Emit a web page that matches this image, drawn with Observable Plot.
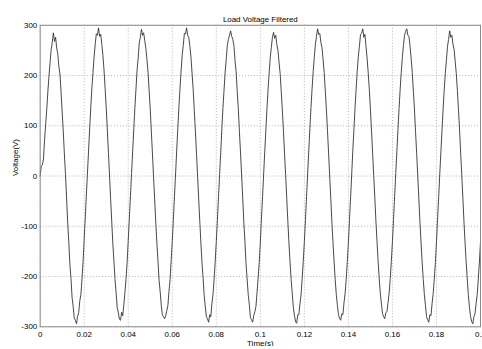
<!DOCTYPE html>
<html><head><meta charset="utf-8">
<script src="https://cdn.jsdelivr.net/npm/d3@7"></script>
<script src="https://cdn.jsdelivr.net/npm/@observablehq/plot@0.6"></script>
<style>html,body{margin:0;padding:0;overflow:hidden;background:#fff;}</style>
</head><body><div id="chart"></div>
<script>
const chartTitle = "Load Voltage Filtered";
const xLabel = "Time(s)";
const yLabel = "Voltage(V)";
const sampleStep = 0.0005; // seconds between samples
const voltage = [
  0, 20, 22, 34, 72, 104, 133, 168, 199, 226, 252, 266, 285, 268, 276, 255, 243, 218, 203, 166, 127, 88, 44, 3, -44, -93, -131, -176, -204, -242, -260, -283, -287, -294, -279, -272, -248, -236, -204, -170,
  -125, -82, -36, 8, 52, 96, 138, 176, 206, 238, 262, 283, 280, 295, 278, 282, 262, 240, 211, 174, 136, 92, 47, 2, -45, -90, -134, -170, -206, -233, -262, -272, -285, -287, -271, -278, -256, -232, -204, -172,
  -128, -84, -40, 5, 48, 92, 134, 172, 210, 234, 265, 276, 292, 280, 285, 270, 254, 232, 206, 170, 133, 88, 44, -2, -46, -92, -132, -168, -207, -230, -257, -276, -280, -284, -278, -268, -258, -230, -206, -168,
  -130, -86, -40, 4, 50, 94, 136, 174, 208, 240, 260, 284, 283, 295, 280, 276, 258, 236, 204, 172, 130, 90, 45, 0, -46, -90, -133, -172, -204, -238, -260, -280, -284, -291, -276, -280, -254, -236, -205, -170,
  -130, -88, -42, 3, 46, 92, 135, 170, 206, 232, 260, 272, 280, 289, 278, 272, 260, 230, 208, 168, 134, 88, 46, 2, -44, -92, -130, -174, -205, -236, -256, -282, -286, -291, -278, -270, -260, -232, -203, -172,
  -132, -85, -42, 4, 48, 90, 133, 172, 205, 236, 256, 276, 286, 274, 280, 262, 250, 226, 204, 168, 131, 90, 44, 1, -45, -91, -134, -172, -206, -234, -262, -278, -290, -293, -276, -276, -254, -236, -204, -170,
  -130, -86, -40, 6, 50, 94, 136, 174, 208, 236, 262, 278, 293, 282, 284, 266, 256, 232, 206, 170, 132, 90, 46, 0, -45, -92, -132, -171, -206, -236, -258, -276, -283, -287, -274, -276, -252, -234, -205, -170,
  -132, -86, -42, 4, 50, 92, 135, 172, 208, 238, 258, 282, 284, 293, 276, 282, 258, 234, 205, 172, 132, 90, 45, 1, -44, -90, -131, -170, -205, -234, -255, -274, -280, -284, -272, -270, -252, -233, -204, -170,
  -130, -86, -40, 5, 48, 92, 134, 172, 206, 236, 260, 280, 288, 293, 280, 278, 258, 234, 206, 170, 133, 88, 45, 0, -46, -92, -133, -172, -206, -236, -258, -280, -286, -291, -276, -278, -254, -234, -205, -172,
  -131, -86, -42, 4, 48, 90, 132, 170, 204, 230, 258, 272, 289, 276, 280, 262, 252, 228, 204, 170, 132, 90, 45, 1, -45, -92, -134, -172, -207, -238, -262, -280, -290, -294, -280, -274, -254, -236, -205, -171,
  -130
];
const xTicks = [0, 0.02, 0.04, 0.06, 0.08, 0.1, 0.12, 0.14, 0.16, 0.18, 0.2];
const xTickLabels = ["0", "0.02", "0.04", "0.06", "0.08", "0.1", "0.12", "0.14", "0.16", "0.18", "0.2"];
const yTicks = [-300, -200, -100, 0, 100, 200, 300];
const yTickLabels = ["-300", "-200", "-100", "0", "100", "200", "300"];

const data = voltage.map((v, i) => ({t: i * sampleStep, v}));
const gridStyle = {stroke: "#b4b4b4", strokeOpacity: 1, strokeDasharray: "1,2", strokeWidth: 1};

const chart = Plot.plot({
  width: 486,
  height: 349,
  marginLeft: 40,
  marginRight: 2,
  marginTop: 25,
  marginBottom: 20,
  style: {fontFamily: "'Liberation Sans', Arial, sans-serif", fontSize: "8px", background: "#fff", color: "#000", overflow: "visible"},
  x: {domain: [0, 0.2]},
  y: {domain: [-300, 300]},
  marks: [
    Plot.gridX(xTicks, gridStyle),
    Plot.gridY(yTicks, gridStyle),
    Plot.line(data, {x: "t", y: "v", stroke: "#333", strokeWidth: 0.9}),
    Plot.frame({stroke: "#8a8a8a"}),
    Plot.axisX(xTicks, {tickSize: 0, tickPadding: 5, tickFormat: d => xTickLabels[xTicks.indexOf(d)], label: null}),
    Plot.axisY(yTicks, {tickSize: 0, tickPadding: 3, tickFormat: d => yTickLabels[yTicks.indexOf(d)], label: null}),
    Plot.text([chartTitle], {frameAnchor: "top", dy: -9, fontSize: 8, fill: "#000"}),
    Plot.text([xLabel], {frameAnchor: "bottom", dy: 17, lineAnchor: "middle", fontSize: 8, fill: "#000"}),
    Plot.text([yLabel], {frameAnchor: "left", dx: -25, rotate: -90, fontSize: 8, fill: "#000"})
  ]
});
document.getElementById("chart").appendChild(chart);
</script>
</body></html>
